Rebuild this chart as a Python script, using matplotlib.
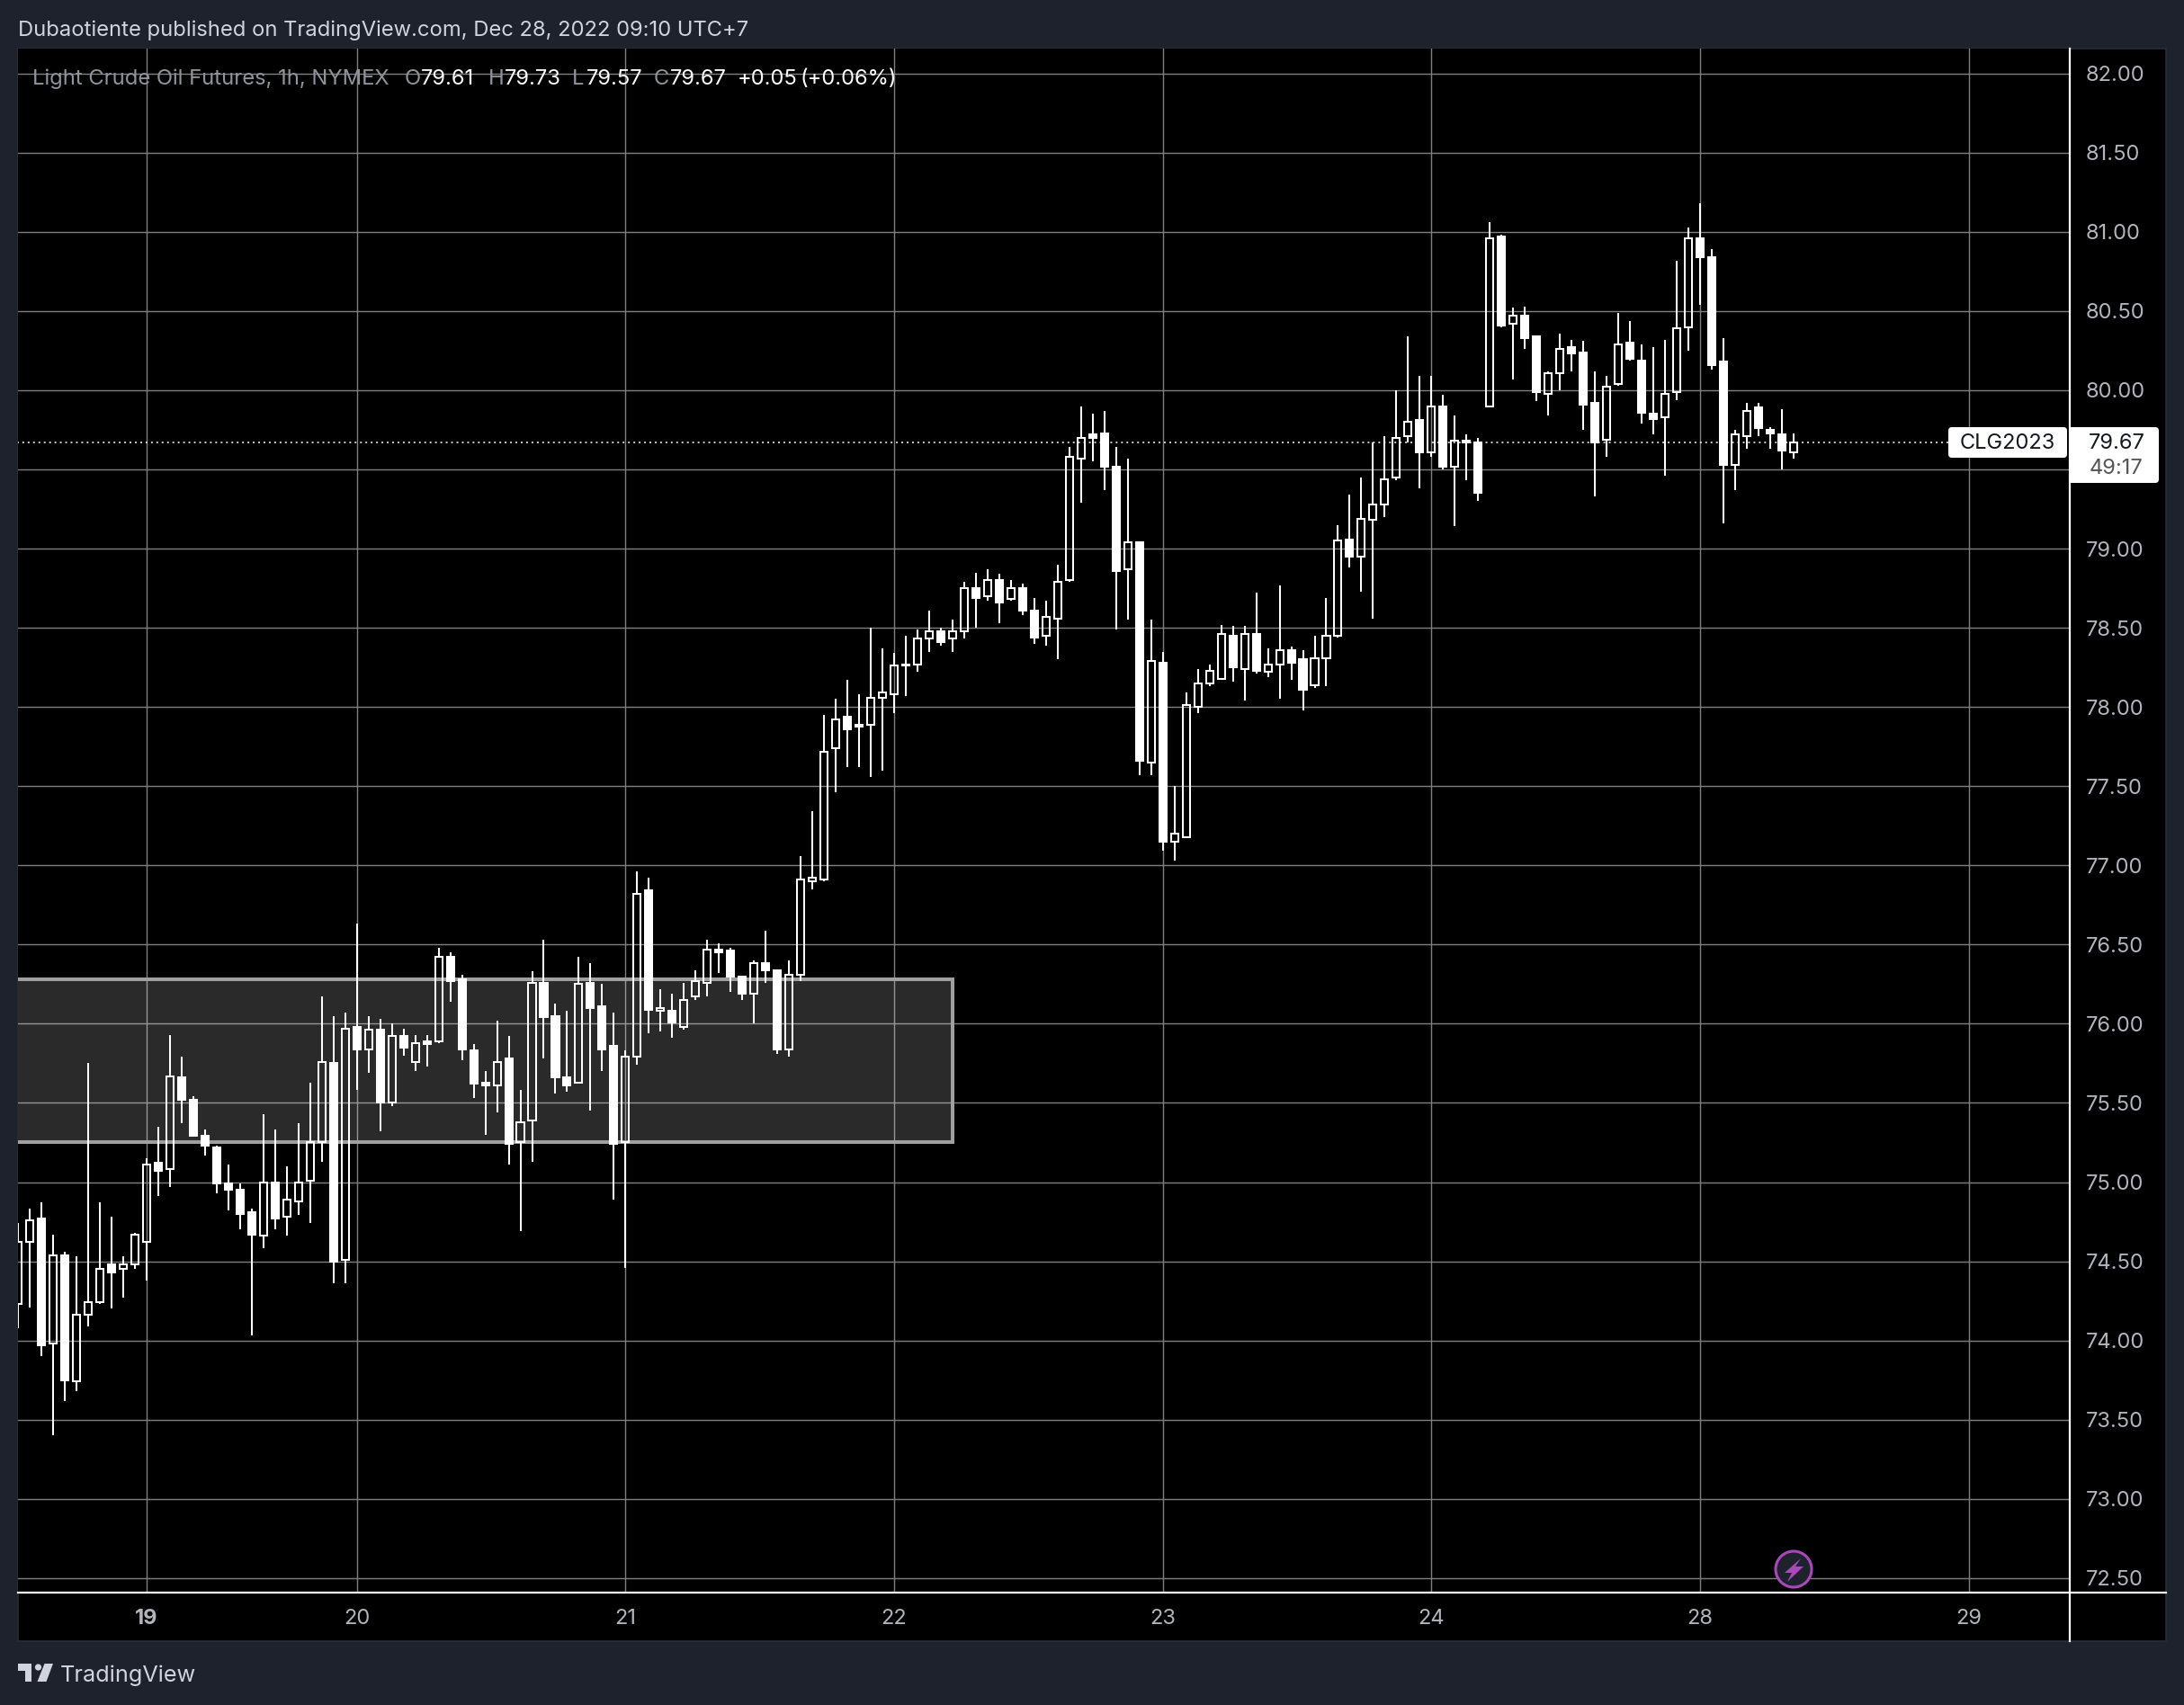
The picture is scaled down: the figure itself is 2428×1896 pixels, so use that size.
import matplotlib
matplotlib.use("Agg")
import matplotlib.pyplot as plt
from matplotlib.patches import Rectangle, FancyBboxPatch, Circle, Polygon
from matplotlib.lines import Line2D

plt.rcParams['font.family'] = ['Inter', 'DejaVu Sans']

opens = [74.23,74.62,74.77,73.98,74.54,73.74,74.16,74.24,74.48,74.45,
         74.48,74.62,75.12,75.08,75.66,75.52,75.29,75.22,74.99,74.95,
         74.81,74.66,75.00,74.78,74.88,75.01,75.25,75.75,74.51,75.98,
         75.84,75.96,75.50,75.92,75.76,75.89,75.89,76.42,76.28,75.83,
         75.63,75.61,75.78,75.25,75.39,76.26,76.05,75.66,75.63,76.26,
         76.11,75.86,75.25,75.79,76.84,76.08,76.08,75.98,76.17,76.26,
         76.47,76.46,76.30,76.19,76.38,76.34,75.84,76.31,76.90,76.91,
         77.74,77.94,77.89,77.89,78.06,78.08,78.27,78.27,78.43,78.48,
         78.43,78.48,78.75,78.70,78.80,78.68,78.75,78.61,78.45,78.56,
         78.80,79.57,79.72,79.73,79.52,78.87,79.04,77.65,78.28,77.15,
         77.18,78.00,78.15,78.18,78.45,78.24,78.46,78.22,78.27,78.36,
         78.30,78.14,78.31,78.45,79.06,78.95,79.18,79.28,79.45,79.71,
         79.81,79.61,79.90,79.52,79.68,79.67,79.90,80.97,80.42,80.47,
         80.34,79.98,80.11,80.27,80.24,79.92,79.69,80.04,80.30,80.19,
         79.85,79.83,79.99,80.40,80.96,80.84,80.18,79.53,79.71,79.89,
         79.75,79.72,79.61]
highs = [74.74,74.83,74.87,74.67,74.56,74.53,75.75,74.87,74.78,74.53,
         74.68,75.15,75.35,75.93,75.79,75.54,75.33,75.23,75.11,74.99,
         74.83,75.43,75.33,75.10,75.37,75.63,76.17,76.05,76.07,76.63,
         76.05,76.03,76.00,75.97,75.93,75.93,76.48,76.45,76.31,75.87,
         75.70,76.02,75.92,75.58,76.33,76.53,76.13,76.08,76.42,76.38,
         76.25,76.07,75.83,76.96,76.92,76.22,76.19,76.26,76.34,76.53,
         76.51,76.48,76.30,76.40,76.59,76.34,76.40,77.06,77.34,77.95,
         78.05,78.17,78.08,78.50,78.37,78.34,78.45,78.49,78.61,78.50,
         78.55,78.79,78.85,78.87,78.84,78.80,78.78,78.69,78.67,78.90,
         79.64,79.90,79.85,79.87,79.64,79.57,79.04,78.55,78.35,77.50,
         78.09,78.24,78.27,78.52,78.51,78.51,78.72,78.37,78.77,78.38,
         78.36,78.45,78.69,79.15,79.34,79.45,79.67,79.71,80.00,80.34,
         80.09,80.09,79.97,79.84,79.72,79.70,81.06,80.98,80.52,80.53,
         80.34,80.12,80.36,80.32,80.31,80.12,80.09,80.49,80.44,80.29,
         80.27,80.32,80.82,81.03,81.18,80.89,80.33,79.75,79.92,79.92,
         79.77,79.88,79.73]
lows = [74.08,74.21,73.90,73.40,73.62,73.68,74.09,74.23,74.20,74.27,
        74.45,74.38,74.91,74.97,75.37,75.29,75.17,74.93,74.82,74.70,
        74.03,74.58,74.70,74.66,74.79,74.74,75.13,74.36,74.36,75.58,
        75.69,75.32,75.48,75.80,75.70,75.73,75.88,76.14,75.77,75.53,
        75.30,75.44,75.11,74.69,75.13,75.78,75.56,75.57,75.62,75.45,
        75.70,74.89,74.46,75.74,75.94,75.95,75.91,75.96,76.15,76.17,
        76.32,76.20,76.15,76.00,76.26,75.81,75.79,76.27,76.85,76.90,
        77.46,77.62,77.62,77.56,77.60,77.96,78.07,78.22,78.35,78.39,
        78.35,78.43,78.50,78.67,78.53,78.67,78.58,78.40,78.39,78.30,
        78.79,79.29,79.55,79.37,78.49,78.55,77.57,77.57,77.09,77.03,
        77.17,77.96,78.13,78.18,78.16,78.04,78.21,78.19,78.05,78.17,
        77.98,78.12,78.13,78.44,78.88,78.73,78.56,79.20,79.43,79.67,
        79.38,79.58,79.50,79.14,79.43,79.30,79.90,80.40,80.07,80.26,
        79.93,79.84,80.00,80.12,79.75,79.33,79.58,80.03,80.19,79.79,
        79.72,79.46,79.94,80.25,80.54,80.13,79.16,79.37,79.63,79.71,
        79.63,79.50,79.57]
closes = [74.62,74.76,73.97,74.54,73.75,74.16,74.24,74.45,74.43,74.48,
          74.67,75.11,75.07,75.67,75.52,75.29,75.23,74.99,74.95,74.80,
          74.67,75.00,74.77,74.89,75.00,75.25,75.76,74.50,75.97,75.84,
          75.96,75.50,75.92,75.85,75.88,75.87,76.42,76.27,75.84,75.62,
          75.61,75.76,75.24,75.38,76.26,76.04,75.66,75.61,76.25,76.10,
          75.84,75.24,75.79,76.82,76.09,76.10,76.01,76.15,76.27,76.47,
          76.45,76.30,76.19,76.38,76.34,75.84,76.31,76.91,76.92,77.72,
          77.92,77.86,77.875,78.06,78.09,78.26,78.26,78.43,78.48,78.41,
          78.48,78.75,78.69,78.80,78.66,78.75,78.61,78.44,78.57,78.79,
          79.58,79.70,79.70,79.52,78.86,79.04,77.66,78.29,77.15,77.20,
          78.01,78.15,78.23,78.46,78.25,78.46,78.23,78.27,78.36,78.28,
          78.11,78.31,78.45,79.05,78.95,79.19,79.28,79.44,79.70,79.80,
          79.61,79.90,79.52,79.68,79.67,79.35,80.96,80.41,80.47,80.33,
          79.99,80.11,80.26,80.23,79.91,79.67,80.02,80.29,80.20,79.86,
          79.82,79.98,80.39,80.96,80.84,80.16,79.53,79.72,79.87,79.76,
          79.73,79.62,79.67]

price_ticks = [72.5 + 0.5 * k for k in range(20)]
day_positions = [11, 29, 52, 75, 98, 121, 144, 167]
day_labels = ['19', '20', '21', '22', '23', '24', '28', '29']
zone_start, zone_end = -2, 80
zone_low, zone_high = 75.25, 76.28
last_price = 79.67

W, H = 2428, 1896
BG = '#1e222d'
fig = plt.figure(figsize=(W / 100, H / 100), dpi=100, facecolor=BG)

# pixel overlay underneath (panel background)
under = fig.add_axes([0, 0, 1, 1], zorder=0)
under.set_xlim(0, W); under.set_ylim(H, 0); under.axis('off')
under.add_patch(Rectangle((20, 54), 2388, 1771, fc='black', ec='#2a2e39', lw=1.2))

# price pane
PL, PR, PT, PB = 20, 2301, 54, 1770
ax = fig.add_axes([PL / W, 1 - PB / H, (PR - PL) / W, (PB - PT) / H], zorder=1)
ax.set_facecolor('black')
step = 12.985
ax.set_xlim(11 - (163 - PL) / step, 11 + (PR - 163) / step)
ax.set_ylim(80 - (PB - 434) / 176.1, 80 + (434 - PT) / 176.1)
for s in ax.spines.values():
    s.set_visible(False)

ax.yaxis.tick_right()
ax.set_yticks(price_ticks)
ax.set_yticklabels([f'{v:.2f}' for v in price_ticks], fontsize=17, color='#b2b5be')
ax.set_xticks(day_positions)
ax.set_xticklabels(day_labels, fontsize=17, color='#b2b5be')
ax.get_xticklabels()[0].set_fontweight('bold')
ax.tick_params(axis='y', length=0, pad=13)
ax.tick_params(axis='x', length=0, pad=14)
ax.set_axisbelow(True)
ax.grid(True, color='#808080', lw=1.0)

# zone
ax.add_patch(Rectangle((zone_start, zone_low), zone_end - zone_start, zone_high - zone_low,
                       fc=(1, 1, 1, 0.17), ec='#a0a0a0', lw=2.9, zorder=1.5))

# last price line
ax.plot([-1, 11 + (2166 - 163) / step], [last_price, last_price], color='white', lw=1.1,
        ls=(0, (1.3, 2.6)), dash_capstyle='butt', zorder=1.8)

# candles
xs = list(range(len(opens)))
tops = [max(o, c) for o, c in zip(opens, closes)]
bots = [min(o, c) for o, c in zip(opens, closes)]
ups = [c >= o for o, c in zip(opens, closes)]
ax.vlines(xs, tops, highs, color='white', lw=1.45, zorder=3)
ax.vlines(xs, lows, bots, color='white', lw=1.45, zorder=3)
ax.bar(xs, [t - b for t, b in zip(tops, bots)], bottom=bots, width=0.62,
       facecolor=['none' if u else 'white' for u in ups], edgecolor='white', linewidth=1.45, zorder=3)

# pixel overlay on top
top = fig.add_axes([0, 0, 1, 1], zorder=2)
top.set_xlim(0, W); top.set_ylim(H, 0); top.axis('off'); top.patch.set_alpha(0)

top.add_line(Line2D([2301, 2301], [54, 1825], color='white', lw=1.6))
top.add_line(Line2D([20, 2408], [1771, 1771], color='white', lw=1.6))

# last price labels
top.add_patch(FancyBboxPatch((2169, 478), 126, 28, boxstyle='round,pad=3,rounding_size=4', fc='white', ec='none'))
top.add_patch(FancyBboxPatch((2305, 478), 92, 56, boxstyle='round,pad=3,rounding_size=4', fc='white', ec='none'))
top.add_patch(Rectangle((2302, 475), 10, 62, fc='white', ec='none'))
top.text(2232, 493, 'CLG2023', fontsize=17, color='#131722', ha='center', va='center')
top.text(2353, 493, f'{last_price:.2f}', fontsize=17, color='#131722', ha='center', va='center')
top.text(2353, 521, '49:17', fontsize=17, color='#555555', ha='center', va='center')

# header
top.text(20, 34, 'Dubaotiente published on TradingView.com, Dec 28, 2022 09:10 UTC+7',
         fontsize=17.1, color='#d1d4dc', ha='left', va='center')
LY = 88
DIM, BRIGHT = '#8f939c', '#ffffff'
for x, s, c in [(36, 'Light Crude Oil Futures, 1h, NYMEX', DIM),
                (450, 'O', DIM), (468, '79.61', BRIGHT),
                (543, 'H', DIM), (561, '79.73', BRIGHT),
                (636, 'L', DIM), (652, '79.57', BRIGHT),
                (727, 'C', DIM), (745, '79.67', BRIGHT),
                (820, '+0.05', BRIGHT), (890, '(+0.06%)', BRIGHT)]:
    top.text(x, LY, s, fontsize=17.1, color=c, ha='left', va='center')

# footer logo and name
LOGO = '#d1d4dc'
top.add_patch(Polygon([(20, 1850), (35, 1850), (35, 1870), (27.5, 1870), (27.5, 1858), (20, 1858)], fc=LOGO, ec='none'))
top.add_patch(Circle((42.5, 1854), 3.6, fc=LOGO, ec='none'))
top.add_patch(Polygon([(49.5, 1850), (59, 1850), (51.5, 1870), (41.5, 1870)], fc=LOGO, ec='none'))
top.text(67, 1863, 'TradingView', fontsize=18.2, color=LOGO, ha='left', va='center')

# lightning badge
top.add_patch(Circle((1994, 1745), 20, fc=BG, ec='#ab47bc', lw=2.2))
top.add_patch(Polygon([(2002, 1733), (1984, 1749), (1992, 1749), (1987, 1759), (2005, 1742), (1996, 1742)],
                      fc='#ab47bc', ec='none'))

fig.savefig('out.png', dpi=100, facecolor=BG)
